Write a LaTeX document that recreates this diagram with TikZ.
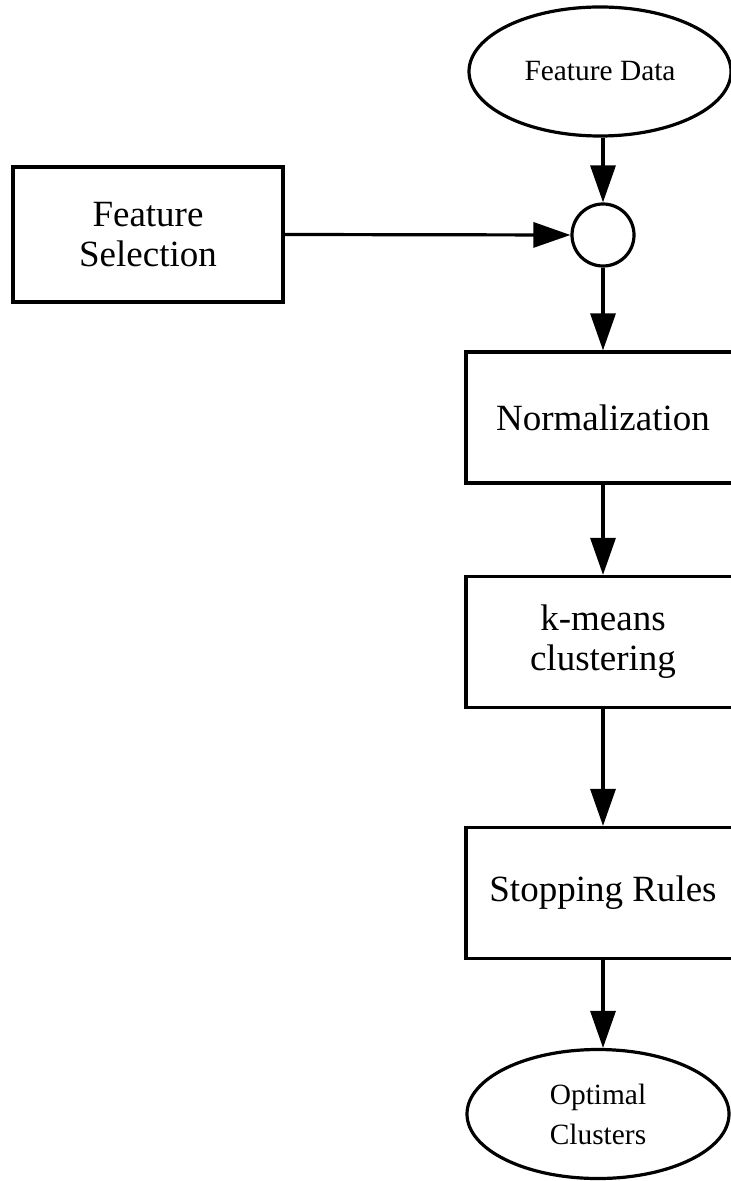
\documentclass[tikz,border=0pt]{standalone}
\usepackage{fontspec}
\setmainfont{Liberation Serif}
\usetikzlibrary{shapes.geometric,arrows.meta}
\begin{document}
\begin{tikzpicture}[x=0.5pt,y=-0.5pt,
  every node/.style={line width=1.6pt, draw, inner sep=0pt, align=center},
  procbox/.style={rectangle, minimum width=137pt, minimum height=65.5pt,
    font=\fontsize{18.5}{20}\selectfont},
  terminal/.style={ellipse, minimum width=131pt, minimum height=64.5pt,
    font=\fontsize{14.7}{20}\selectfont},
  junction/.style={circle, minimum size=31pt},
  flow/.style={line width=1.6pt, -{Triangle[length=18.5pt,width=12.5pt]}}
]
\useasboundingbox (0,0) rectangle (731,1181);
\clip (0,0) rectangle (731,1181);

\node[terminal] (fd) at (600,71.5) {Feature Data};
\node[junction] (c) at (603,235) {};
\node[procbox, minimum width=135pt, minimum height=67.5pt] (fs) at (148,234.5) {Feature\\Selection};
\node[procbox] (norm) at (603,417.5) {Normalization};
\node[procbox] (km) at (603,642) {k-means\\clustering};
\node[procbox] (sr) at (603,893) {Stopping Rules};
\node[terminal] (oc) at (598,1114) {Optimal\\Clusters};

\draw[flow] (c.north |- fd.south) -- (c.north);
\draw[flow] (fs.east) -- (c.west);
\draw[flow] (c.south) -- (norm.north);
\draw[flow] (norm.south) -- (km.north);
\draw[flow] (km.south) -- (sr.north);
\draw[flow] (sr.south) -- (sr.south |- oc.north);
\end{tikzpicture}
\end{document}
